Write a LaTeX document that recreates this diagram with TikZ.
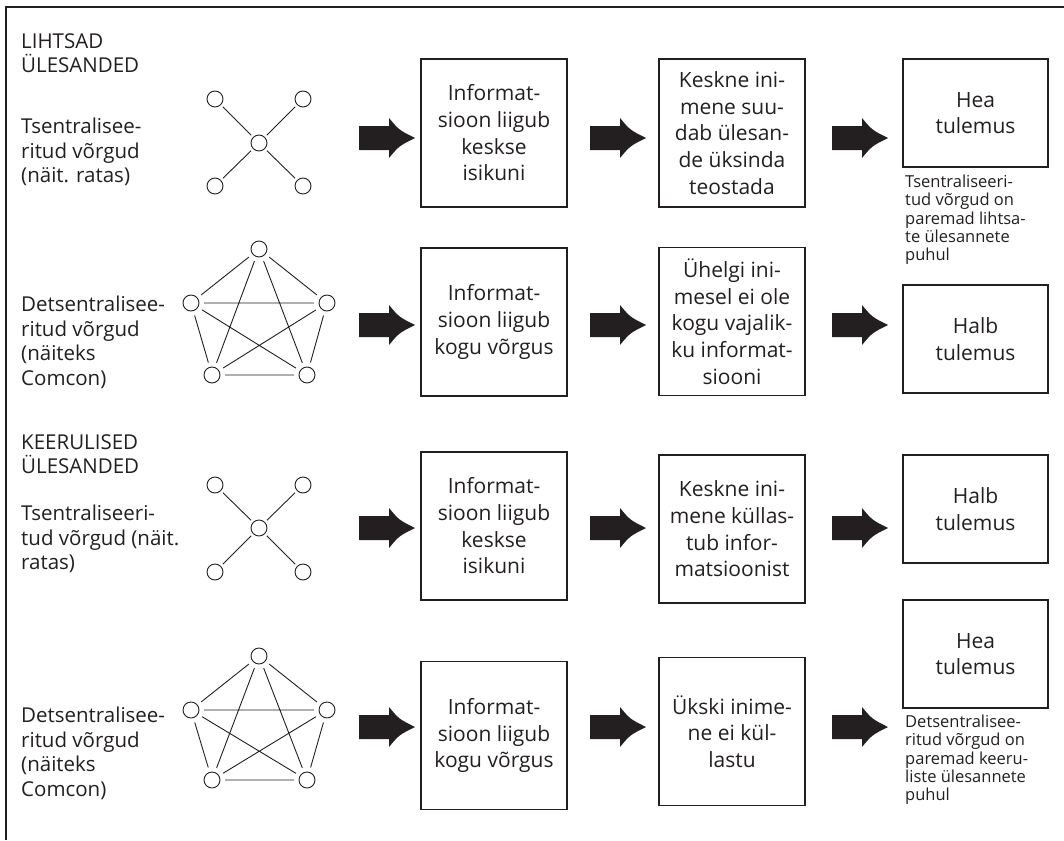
\documentclass[tikz,border=0pt]{standalone}
\usepackage{fontspec}
\setmainfont{Open Sans}
\definecolor{Ink}{HTML}{231F20}
\tikzset{
  box/.style={draw=Ink, line width=1.1pt, minimum width=146pt, minimum height=148pt, align=center, inner sep=0pt, text=Ink, font=\fontsize{21}{26.7}\selectfont},
  resbox/.style={box, minimum width=145pt, minimum height=108pt},
  lbl/.style={anchor=north west, align=left, inner sep=0pt, text=Ink, font=\fontsize{20.5}{24.5}\selectfont},
  note/.style={anchor=north west, align=left, inner sep=0pt, text=Ink, font=\fontsize{16.5}{18.2}\selectfont},
  dot/.style={circle, draw=Ink, line width=0.9pt, minimum size=16pt, inner sep=0pt, outer sep=3pt},
  pdot/.style={dot, outer sep=5pt},
  link/.style={draw=Ink, line width=0.9pt}
}
\newcommand{\blockarrow}[1]{%
  \fill[Ink, shift={(#1)}] (0,-12) -- (30,-12) -- (30,-20) .. controls (40,-8) .. (56,0)
    .. controls (40,8) .. (30,20) -- (30,12) -- (0,12) -- cycle;}

\begin{document}
\begin{tikzpicture}[x=1pt, y=-1pt]
  \useasboundingbox (0,0) rectangle (1064,840);
  \draw[Ink, line width=1.2pt] (6,840) -- (6,7) -- (1064,7);

  \node[lbl] (head1) at (21,33) {LIHTSAD\\ÜLESANDED};
  \node[lbl] (lab1) at (21,118) {Tsentralisee-\\ritud võrgud\\(näit. ratas)};
  \node[lbl] (lab2) at (21,296) {Detsentralisee-\\ritud võrgud\\(näiteks\\Comcon)};
  \node[lbl] (head3) at (21,434) {KEERULISED\\ÜLESANDED};
  \node[lbl] (lab3) at (21,505) {Tsentraliseeri-\\tud võrgud (näit.\\ratas)};
  \node[lbl] (lab4) at (21,707) {Detsentralisee-\\ritud võrgud\\(näiteks\\Comcon)};

  \node[dot] (s1) at (259,143) {};
  \node[dot] (s1a) at (215,99) {};
  \node[dot] (s1b) at (303,99) {};
  \node[dot] (s1c) at (215,186) {};
  \node[dot] (s1d) at (303,186) {};
  \draw[link] (s1) -- (s1a) (s1) -- (s1b) (s1) -- (s1c) (s1) -- (s1d);

  \node[pdot] (p2a) at (259,249) {};
  \node[pdot] (p2b) at (191,303) {};
  \node[pdot] (p2c) at (327,303) {};
  \node[pdot] (p2d) at (212,375) {};
  \node[pdot] (p2e) at (307,375) {};
  \draw[link] (p2a) -- (p2b) (p2a) -- (p2c) (p2a) -- (p2d) (p2a) -- (p2e)
    (p2b) -- (p2c) (p2b) -- (p2d) (p2b) -- (p2e)
    (p2c) -- (p2d) (p2c) -- (p2e) (p2d) -- (p2e);

  \node[dot] (s3) at (259,528) {};
  \node[dot] (s3a) at (215,485) {};
  \node[dot] (s3b) at (303,485) {};
  \node[dot] (s3c) at (215,572) {};
  \node[dot] (s3d) at (303,572) {};
  \draw[link] (s3) -- (s3a) (s3) -- (s3b) (s3) -- (s3c) (s3) -- (s3d);

  \node[pdot] (p4a) at (259,656) {};
  \node[pdot] (p4b) at (191,710) {};
  \node[pdot] (p4c) at (327,710) {};
  \node[pdot] (p4d) at (212,780) {};
  \node[pdot] (p4e) at (307,780) {};
  \draw[link] (p4a) -- (p4b) (p4a) -- (p4c) (p4a) -- (p4d) (p4a) -- (p4e)
    (p4b) -- (p4c) (p4b) -- (p4d) (p4b) -- (p4e)
    (p4c) -- (p4d) (p4c) -- (p4e) (p4d) -- (p4e);

  \node[box] (info1) at (494,133) {Informat-\\sioon liigub\\keskse\\isikuni};
  \node[box] (step1) at (732,133) {Keskne ini-\\mene suu-\\dab ülesan-\\de üksinda\\teostada};
  \node[resbox] (res1) at (975.5,113) {Hea\\tulemus};
  \node[note] (note1) at (905,175) {Tsentraliseeri-\\tud võrgud on\\paremad lihtsa-\\te ülesannete\\puhul};

  \node[box] (info2) at (494,322) {Informat-\\sioon liigub\\kogu võrgus};
  \node[box] (step2) at (732,321.5) {Ühelgi ini-\\mesel ei ole\\kogu vajalik-\\ku informat-\\siooni};
  \node[resbox] (res2) at (975.5,339) {Halb\\tulemus};

  \node[box] (info3) at (494,526) {Informat-\\sioon liigub\\keskse\\isikuni};
  \node[box] (step3) at (732,529) {Keskne ini-\\mene küllas-\\tub infor-\\matsioonist};
  \node[resbox] (res3) at (975.5,509) {Halb\\tulemus};

  \node[box] (info4) at (494,735.5) {Informat-\\sioon liigub\\kogu võrgus};
  \node[box] (step4) at (732,731.5) {Ükski inime-\\ne ei kül-\\lastu};
  \node[resbox] (res4) at (975.5,654) {Hea\\tulemus};
  \node[note] (note4) at (905,715) {Detsentralisee-\\ritud võrgud on\\paremad keeru-\\liste ülesannete\\puhul};

  \coordinate (a11) at (359,138);
  \coordinate (a12) at (590,138);
  \coordinate (a13) at (832,138);
  \coordinate (a21) at (359,325);
  \coordinate (a22) at (590,325);
  \coordinate (a23) at (832,325);
  \coordinate (a31) at (359,528);
  \coordinate (a32) at (590,528);
  \coordinate (a33) at (832,528);
  \coordinate (a41) at (359,727);
  \coordinate (a42) at (590,727);
  \coordinate (a43) at (832,727);
  \blockarrow{a11} \blockarrow{a12} \blockarrow{a13}
  \blockarrow{a21} \blockarrow{a22} \blockarrow{a23}
  \blockarrow{a31} \blockarrow{a32} \blockarrow{a33}
  \blockarrow{a41} \blockarrow{a42} \blockarrow{a43}
\end{tikzpicture}
\end{document}
